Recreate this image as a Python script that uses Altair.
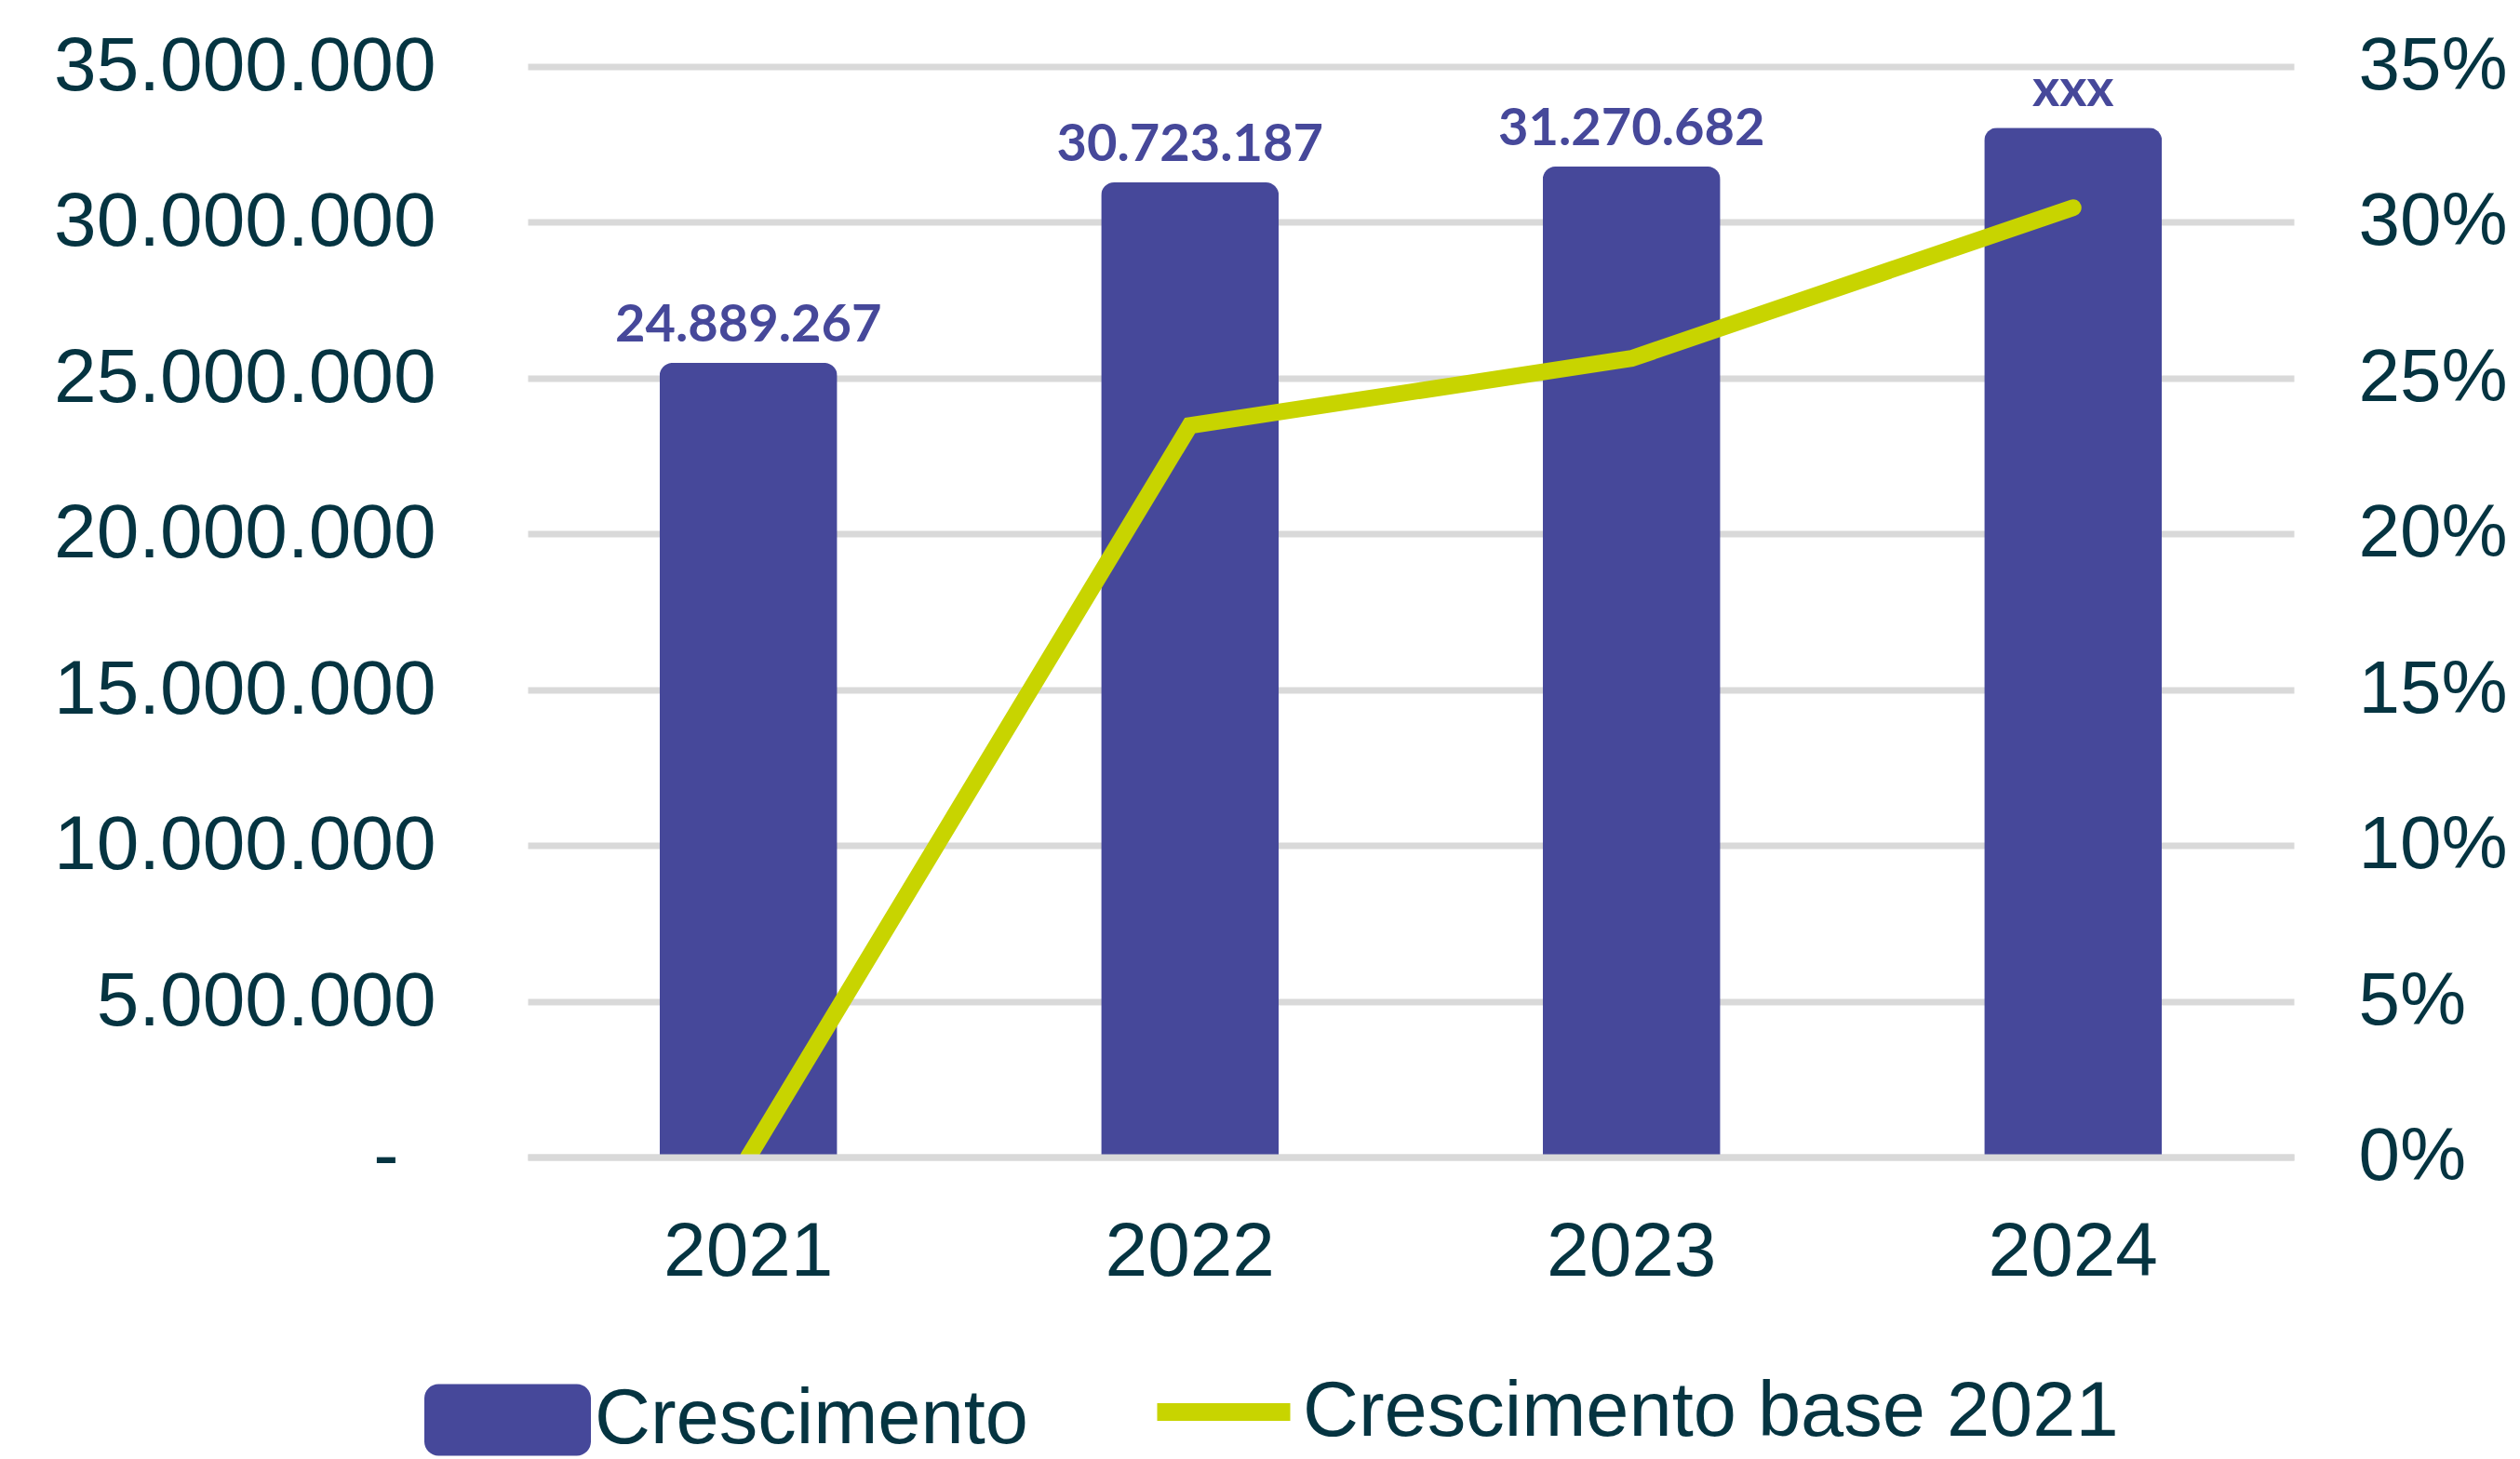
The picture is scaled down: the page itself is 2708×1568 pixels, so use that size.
import altair as alt
import pandas as pd

# ---- data ----
anos = ["2021", "2022", "2023", "2024"]
crescimento = [25490000, 31280000, 31790000, 33040000]
rotulos = ["24.889.267", "30.723.187", "31.270.682", "xxx"]
base_2021 = [0.0, 0.2348, 0.2563, 0.3047]
ticks_valor = [0, 5000000, 10000000, 15000000, 20000000, 25000000, 30000000, 35000000]
ticks_pct = [0.0, 0.05, 0.10, 0.15, 0.20, 0.25, 0.30, 0.35]
serie_barras = "Crescimento"
serie_linha = "Crescimento base 2021"

ROXO = "#46489a"
VERDE = "#c8d400"
GRADE = "#d9d9d9"
TEXTO = "#053441"
FONTE = "Liberation Sans"

df = pd.DataFrame({
    "ano": anos,
    "valor": crescimento,
    "rotulo": rotulos,
    "pct": base_2021,
    "serie_b": [serie_barras] * len(anos),
    "serie_l": [serie_linha] * len(anos),
})

x_enc = alt.X(
    "ano:O",
    scale=alt.Scale(paddingInner=0.5975, paddingOuter=0.29875),
    axis=alt.Axis(
        title=None, labelAngle=0, labelFontSize=82, labelFont=FONTE, labelColor=TEXTO,
        labelPadding=62, labelLimit=1000, ticks=False, domain=True, domainColor=GRADE,
        domainWidth=7, zindex=1, grid=False,
    ),
)

y_valor = alt.Y(
    "valor:Q",
    scale=alt.Scale(domain=[0, 35000000], nice=False),
    axis=alt.Axis(
        title=None, values=ticks_valor,
        labelExpr="datum.value == 0 ? '-' : replace(format(datum.value, ','), regexp(',', 'g'), '.')",
        labelFontSize=82, labelFont=FONTE, labelColor=TEXTO,
        labelPadding={"condition": {"test": "datum.value == 0", "value": 139}, "value": 99},
        labelLimit=1000,
        ticks=False, domain=False, grid=True, gridColor=GRADE, gridWidth=7,
    ),
)

path_ret = ("M-0.83,-0.43 H0.83 A0.17,0.17 0 0 1 1,-0.26 V0.26 A0.17,0.17 0 0 1 0.83,0.43 "
            "H-0.83 A0.17,0.17 0 0 1 -1,0.26 V-0.26 A0.17,0.17 0 0 1 -0.83,-0.43 Z")

bars = alt.Chart(df).mark_bar(cornerRadiusTopLeft=14, cornerRadiusTopRight=14).encode(
    x=x_enc,
    y=y_valor,
    fill=alt.Fill(
        "serie_b:N",
        scale=alt.Scale(domain=[serie_barras], range=[ROXO]),
        legend=alt.Legend(
            title=None, orient="none", legendX=-111, legendY=1365,
            symbolType=path_ret, symbolSize=32041, symbolStrokeWidth=0, symbolOpacity=1,
            labelFontSize=83, labelFont=FONTE, labelColor=TEXTO, labelLimit=2000,
            labelOffset=4, padding=0,
        ),
    ),
)

labels = alt.Chart(df).mark_text(
    font="Lato", fontWeight="bold", fontSize=56, color=ROXO,
    dy=-23, baseline="alphabetic", align="center",
).encode(
    x=alt.X("ano:O"),
    y=alt.Y("valor:Q"),
    text="rotulo:N",
)

line = alt.Chart(df).mark_line(strokeWidth=18, strokeCap="round", clip=True).encode(
    x=alt.X("ano:O"),
    y=alt.Y(
        "pct:Q",
        scale=alt.Scale(domain=[0, 0.35], nice=False),
        axis=alt.Axis(
            title=None, orient="right", values=ticks_pct, format=".0%",
            labelFontSize=80, labelFont=FONTE, labelColor=TEXTO, labelPadding=69,
            labelLimit=1000, ticks=False, domain=False, grid=False,
        ),
    ),
    stroke=alt.Stroke(
        "serie_l:N",
        scale=alt.Scale(domain=[serie_linha], range=[VERDE]),
        legend=alt.Legend(
            title=None, orient="none", legendX=667, legendY=1365,
            symbolType="stroke", symbolSize=20449, symbolStrokeWidth=19,
            labelFontSize=83, labelFont=FONTE, labelColor=TEXTO, labelLimit=2000,
            labelOffset=4, padding=0,
        ),
    ),
)

chart = alt.layer(alt.layer(bars, labels), line).resolve_scale(
    y="independent"
).properties(
    width=1898, height=1172,
    autosize=alt.AutoSizeParams(type="none"),
    padding={"left": 559, "top": 63.5, "right": 235, "bottom": 324},
).configure_view(strokeWidth=0)

chart.save("out.html", embed_options={"renderer": "svg", "actions": False})
